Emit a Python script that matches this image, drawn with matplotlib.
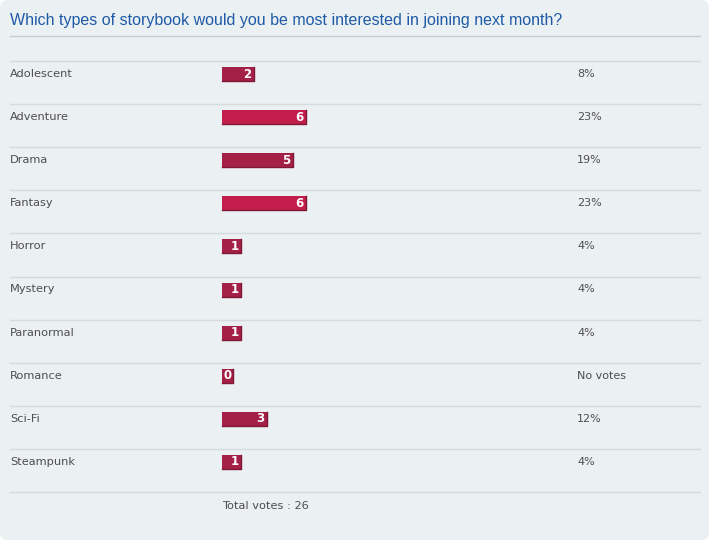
"""Poll results panel: storybook genre votes, horizontal bars with counts and shares."""
import matplotlib
matplotlib.use("Agg")
import matplotlib.pyplot as plt
from matplotlib.patches import FancyBboxPatch

title = "Which types of storybook would you be most interested in joining next month?"
genres = ["Adolescent", "Adventure", "Drama", "Fantasy", "Horror", "Mystery",
          "Paranormal", "Romance", "Sci-Fi", "Steampunk"]
votes = [2, 6, 5, 6, 1, 1, 1, 0, 3, 1]
shares = ["8%", "23%", "19%", "23%", "4%", "4%", "4%", "No votes", "12%", "4%"]
total = 26

W, H = 710, 541
BG = "#ebf0f3"
TXT = "#4e4e4e"
BAR = "#a52046"
BAR_HI = "#c21d4b"
EDGE = "#7f1834"
ROW0, ROW_H = 61, 43.1
BAR_X, PX_PER_VOTE, PAD = 222, 13, 5.5

fig = plt.figure(figsize=(W / 100, H / 100), dpi=100, facecolor="white")
ax = fig.add_axes([0, 0, 1, 1])
ax.set_xlim(0, W)
ax.set_ylim(H, 0)
ax.axis("off")

ax.add_patch(FancyBboxPatch((0, 0), W - 1, H - 1, boxstyle="round,pad=0,rounding_size=8",
                            fc=BG, ec="none", zorder=0))

ax.text(10, 20, title, fontsize=11.5, color="#1f5aa6", family="Liberation Sans",
        va="center", ha="left")
ax.plot([10, 700], [35.5, 35.5], color="#c5cbd1", lw=1.0)

top = max(votes)
for i, (g, v, s) in enumerate(zip(genres, votes, shares)):
    y0 = ROW0 + i * ROW_H
    ax.plot([10, 700], [y0, y0], color="#d5dade", lw=1.0, zorder=1)
    yc = y0 + 13
    ax.text(10, yc, g, fontsize=8.2, color=TXT, va="center", ha="left")
    w = v * PX_PER_VOTE + PAD if v else 11
    col = BAR_HI if v == top else BAR
    ax.barh(yc, w, left=BAR_X, height=14, color=col, edgecolor="none", zorder=2)
    # darker bottom/right shadow
    ax.plot([BAR_X, BAR_X + w, BAR_X + w], [yc + 7, yc + 7, yc - 7], color=EDGE,
            lw=1.0, zorder=3)
    if v:
        ax.text(BAR_X + w - 2, yc, str(v), fontsize=8.5, color="white", fontweight="bold",
                va="center", ha="right", zorder=4)
    else:
        ax.text(BAR_X + w / 2, yc, str(v), fontsize=8.5, color="white", fontweight="bold",
                va="center", ha="center", zorder=4)
    ax.text(577, yc, s, fontsize=8, color=TXT, va="center", ha="left")

y_end = ROW0 + len(genres) * ROW_H
ax.plot([10, 700], [y_end, y_end], color="#d5dade", lw=1.0, zorder=1)
ax.text(BAR_X, y_end + 14, f"Total votes : {total}", fontsize=8.2, color=TXT,
        va="center", ha="left")

fig.savefig("out.png", dpi=100, facecolor="white")
